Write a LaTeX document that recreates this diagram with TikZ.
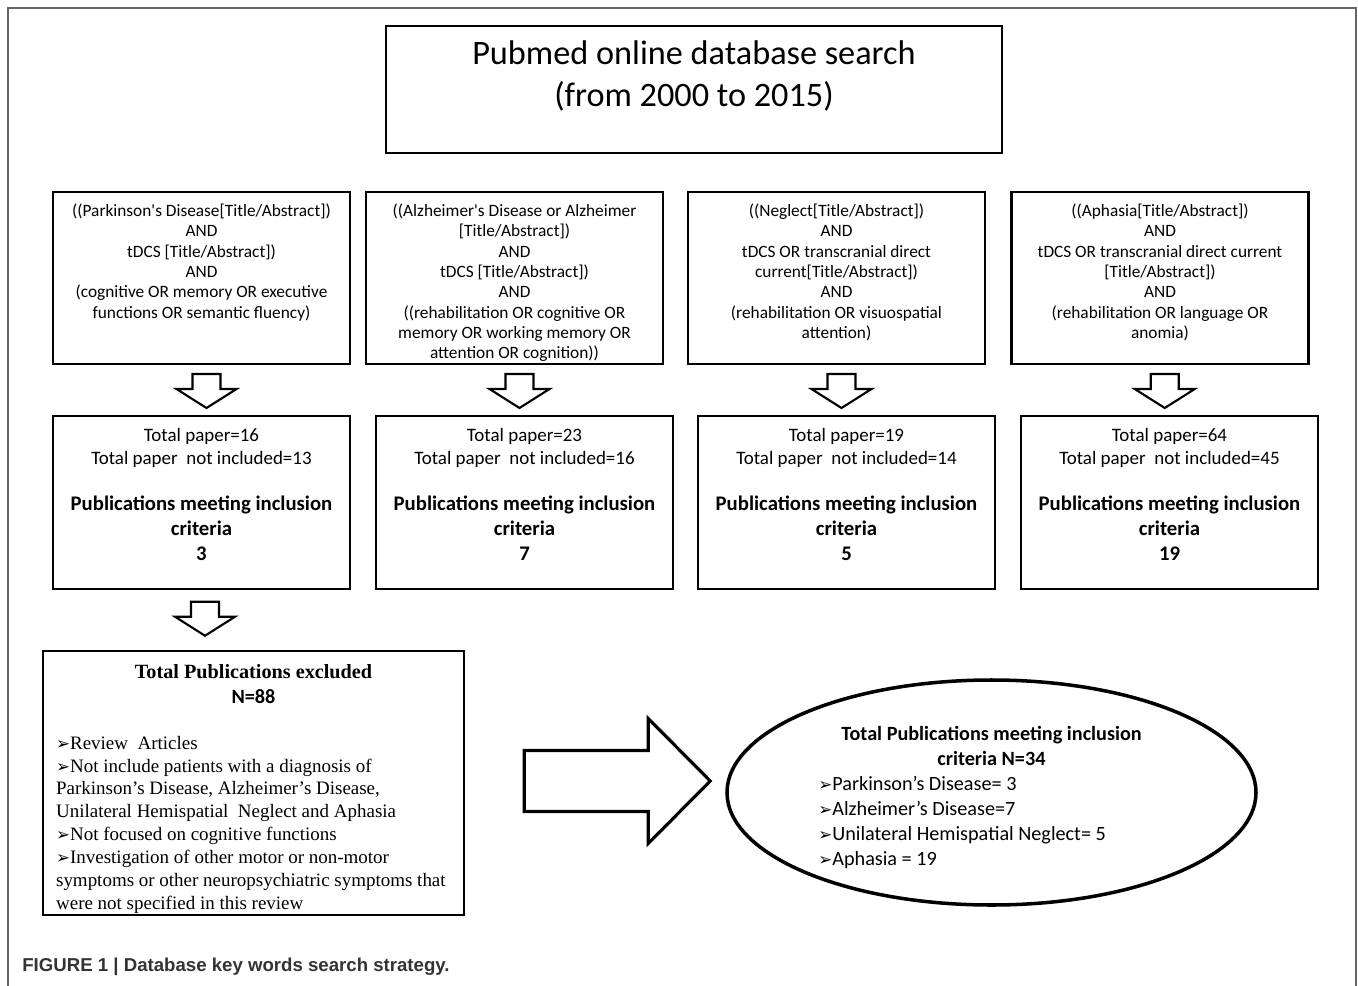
\documentclass[tikz,border=0pt]{standalone}
\usepackage{fontspec}
\usepackage{textcomp}
\setmainfont{Carlito}
\newfontfamily\timesfont{Liberation Serif}
\newfontfamily\arialfont{Liberation Sans}
\newfontfamily\bulletfont{DejaVu Sans}
\newcommand{\arrbul}{{\bulletfont\fontsize{9.5}{9.5}\selectfont ➢}}
\usetikzlibrary{positioning,calc,shapes.geometric}
\tikzset{
    downblock/.pic={
        \draw[line width=1.2pt, fill=white] (-0.28,0.32) -- (0.28,0.32) -- (0.28,0.02) -- (0.6,0.02)
            -- (0,-0.36) -- (-0.6,0.02) -- (-0.28,0.02) -- cycle;
    },
    rightblock/.pic={
        \draw[line width=1.8pt, fill=white] (0,0.61) -- (2.48,0.61) -- (2.48,1.25) -- (3.72,0)
            -- (2.48,-1.25) -- (2.48,-0.61) -- (0,-0.61) -- cycle;
    },
}

\begin{document}
\begin{tikzpicture}[
        querybox/.style={draw, line width=1.4pt, minimum width=5.94cm, minimum height=3.44cm, inner sep=0pt},
        resultbox/.style={draw, line width=1.4pt, minimum width=5.94cm, minimum height=3.46cm, inner sep=0pt},
        querytext/.style={align=center, inner sep=0pt, font=\fontsize{9.85}{11.6}\selectfont},
        counttext/.style={align=center, inner sep=0pt, font=\fontsize{10.8}{13}\selectfont},
        crittext/.style={align=center, inner sep=0pt, font=\fontsize{11.8}{14.2}\selectfont\bfseries},
    ]
        \useasboundingbox (0,0) rectangle (27.16,-19.72);
        % frame, open at the bottom
        \draw[black!60, line width=0.9pt] (0.16,-19.72) -- (0.16,-0.16) -- (27.12,-0.16) -- (27.12,-19.72);

        \node[draw, line width=1.4pt, minimum width=12.32cm, minimum height=2.54cm] (search) at (13.88,-1.79) {};
        \node[below=0.32cm of search.north, align=center, inner sep=0pt, font=\fontsize{19.5}{23.8}\selectfont] (searchtxt)
            {Pubmed online database search\\(from 2000 to 2015)};

        % search strings
        \node[querybox] (q1) at (4.03,-5.56) {};
        \node[querybox] (q2) at (10.29,-5.56) {};
        \node[querybox] (q3) at (16.73,-5.56) {};
        \node[querybox] (q4) at (23.20,-5.56) {};

        \node[querytext, below=0.25cm of q1.north] (q1txt) {((Parkinson\textquotesingle s Disease[Title/Abstract])\\AND\\tDCS [Title/Abstract])\\AND\\(cognitive OR memory OR executive\\functions OR semantic fluency)};
        \node[querytext, below=0.25cm of q2.north] (q2txt) {((Alzheimer\textquotesingle s Disease or Alzheimer\\{[}Title/Abstract])\\AND\\tDCS [Title/Abstract])\\AND\\((rehabilitation OR cognitive OR\\memory OR working memory OR\\attention OR cognition))};
        \node[querytext, below=0.25cm of q3.north] (q3txt) {((Neglect[Title/Abstract])\\AND\\tDCS OR transcranial direct\\current[Title/Abstract])\\AND\\(rehabilitation OR visuospatial\\attention)};
        \node[querytext, below=0.25cm of q4.north] (q4txt) {((Aphasia[Title/Abstract])\\AND\\tDCS OR transcranial direct current\\{[}Title/Abstract])\\AND\\(rehabilitation OR language OR\\anomia)};

        % counts
        \node[resultbox] (r1) at (4.03,-10.05) {};
        \node[resultbox] (r2) at (10.49,-10.05) {};
        \node[resultbox] (r3) at (16.93,-10.05) {};
        \node[resultbox] (r4) at (23.39,-10.05) {};

        \node[counttext, below=0.26cm of r1.north] (r1cnt) {Total paper=16\\Total paper\ \ not included=13};
        \node[counttext, below=0.26cm of r2.north] (r2cnt) {Total paper=23\\Total paper\ \ not included=16};
        \node[counttext, below=0.26cm of r3.north] (r3cnt) {Total paper=19\\Total paper\ \ not included=14};
        \node[counttext, below=0.26cm of r4.north] (r4cnt) {Total paper=64\\Total paper\ \ not included=45};

        \node[crittext, below=1.61cm of r1.north] (r1crit) {Publications meeting inclusion\\criteria\\3};
        \node[crittext, below=1.61cm of r2.north] (r2crit) {Publications meeting inclusion\\criteria\\7};
        \node[crittext, below=1.61cm of r3.north] (r3crit) {Publications meeting inclusion\\criteria\\5};
        \node[crittext, below=1.61cm of r4.north] (r4crit) {Publications meeting inclusion\\criteria\\19};

        \pic at ([xshift=0.1cm]$(q1.south)!0.5!(r1.north)$) {downblock};
        \pic at ($(q2.south)!0.5!(r2.north)$) {downblock};
        \pic at ($(q3.south)!0.5!(r3.north)$) {downblock};
        \pic at ($(q4.south)!0.5!(r4.north)$) {downblock};

        % excluded
        \node[draw, line width=1.4pt, minimum width=8.42cm, minimum height=5.28cm] (excl) at (5.07,-15.66) {};
        \pic at ([xshift=0.07cm,yshift=-0.55cm]r1.south) {downblock};
        \node[below=0.29cm of excl.north, inner sep=0pt, font=\timesfont\bfseries\fontsize{11.5}{14}\selectfont] (extitle) {Total Publications excluded};
        \node[below=0.79cm of excl.north, inner sep=0pt, font=\fontsize{11.5}{14}\selectfont\bfseries] (exn) {N=88};
        \node[anchor=north west, align=left, inner sep=0pt, font=\timesfont\fontsize{10.8}{13}\selectfont] (exlist)
            at ([xshift=0.28cm,yshift=-1.72cm]excl.north west)
            {\arrbul Review\ \ Articles\\\arrbul Not include patients with a diagnosis of\\Parkinson’s Disease, Alzheimer’s Disease,\\Unilateral Hemispatial\ \ Neglect and Aphasia\\\arrbul Not focused on cognitive functions\\\arrbul Investigation of other motor or non-motor\\symptoms or other neuropsychiatric symptoms that\\were not specified in this review};

        % included
        \node[draw, ellipse, line width=2pt, minimum width=10.58cm, minimum height=4.5cm, inner sep=0pt] (incl) at (19.83,-15.85) {};
        \pic at ([xshift=1.18cm,yshift=0.04cm]excl.east) {rightblock};
        \node[anchor=north, align=center, inner sep=0pt, font=\fontsize{11.5}{14.2}\selectfont\bfseries] (incltitle)
            at ([yshift=1.33cm]incl.center) {Total Publications meeting inclusion\\criteria N=34};
        \node[anchor=north west, align=left, inner sep=0pt, font=\fontsize{11.5}{14.2}\selectfont] (incllist)
            at ([xshift=-3.47cm,yshift=0.33cm]incl.center)
            {\arrbul Parkinson’s Disease= 3\\\arrbul Alzheimer’s Disease=7\\\arrbul Unilateral Hemispatial Neglect= 5\\\arrbul Aphasia = 19};

        \node[anchor=west, inner sep=0pt, text=black!80, font=\arialfont\bfseries\fontsize{10.6}{12}\selectfont] (caption)
            at (0.44,-19.34) {FIGURE 1 | Database key words search strategy.};
    \end{tikzpicture}
\end{document}
